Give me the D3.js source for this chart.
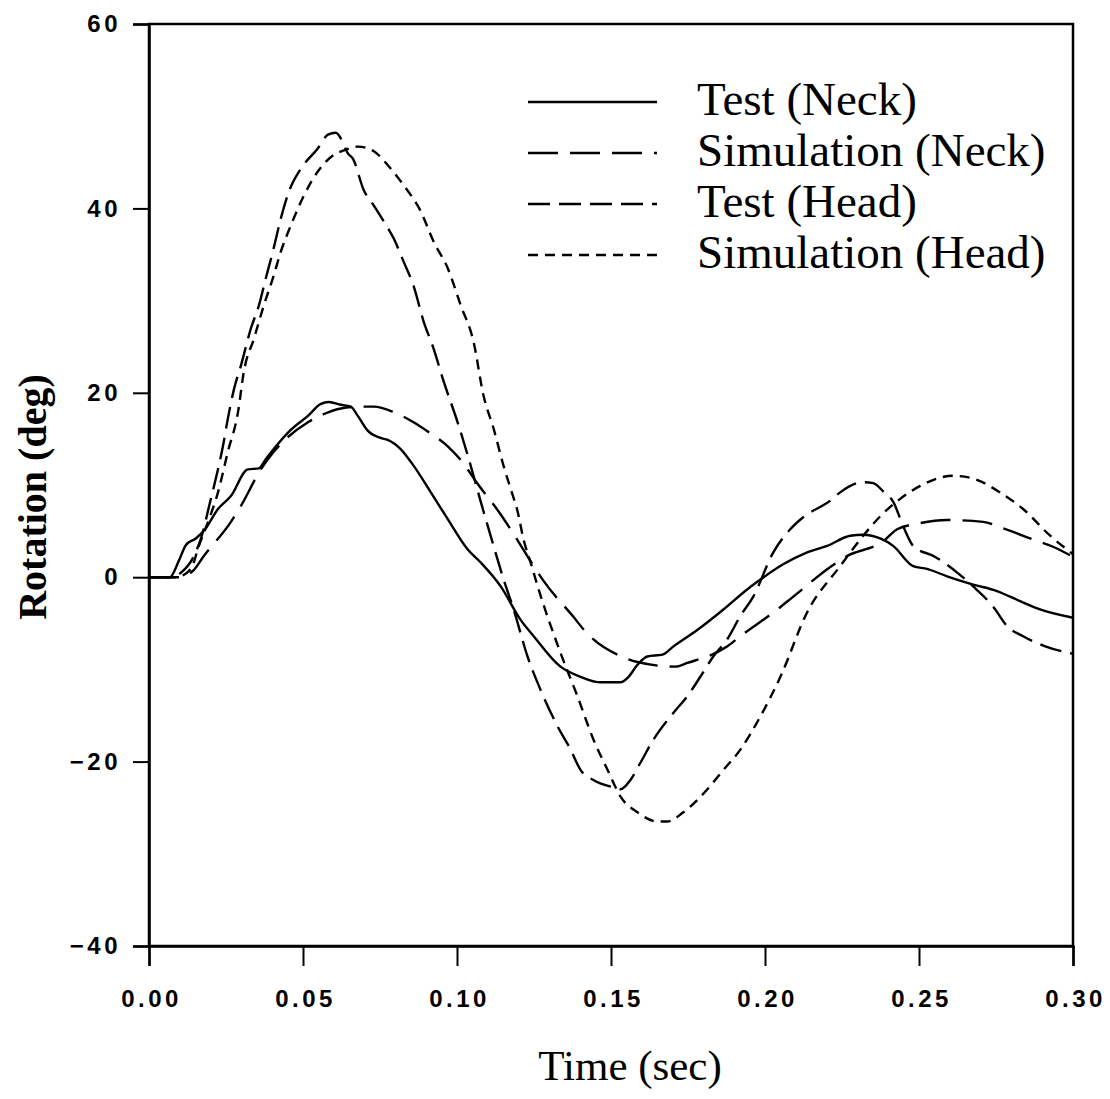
<!DOCTYPE html>
<html><head><meta charset="utf-8">
<script src="https://cdn.jsdelivr.net/npm/d3@7"></script>
<style>body{margin:0;background:#fff}</style>
</head><body>
<script>
// ---- data (time in sec, rotation in deg) ----
const xTicks = [0.00, 0.05, 0.10, 0.15, 0.20, 0.25, 0.30];
const yTicks = [-40, -20, 0, 20, 40, 60];
const seriesNames = ["Test (Neck)", "Simulation (Neck)", "Test (Head)", "Simulation (Head)"];

const testNeck = [[0,0],[0.0068,0],[0.0097,1.8],[0.012,3.5],[0.0152,4.2],[0.0182,5.2],[0.0224,7.4],[0.0266,8.8],[0.0321,11.7],[0.0357,11.8],[0.0379,12.8],[0.0405,13.9],[0.0461,16],[0.0516,17.5],[0.0558,18.8],[0.0584,19],[0.0623,18.7],[0.0655,18.5],[0.0678,17.5],[0.071,15.9],[0.0752,15.1],[0.0775,14.9],[0.0817,13.9],[0.0859,12.1],[0.0915,9.2],[0.097,6.3],[0.1035,3],[0.1077,1.6],[0.1142,-1],[0.1206,-4.6],[0.1249,-6.4],[0.1336,-9.7],[0.1401,-10.8],[0.1466,-11.4],[0.1531,-11.4],[0.1557,-10.8],[0.1586,-9.5],[0.1618,-8.6],[0.1667,-8.4],[0.1703,-7.5],[0.1781,-5.7],[0.1865,-3.5],[0.1943,-1.3],[0.1975,-0.5],[0.2059,1.4],[0.2137,2.7],[0.2202,3.4],[0.2277,4.5],[0.2319,4.6],[0.2374,4.2],[0.2416,3.4],[0.2481,1.2],[0.2526,0.9],[0.2591,0.1],[0.2676,-0.8],[0.2753,-1.5],[0.2828,-2.6],[0.2893,-3.5],[0.3,-4.4]];

const simNeck = [[0,0],[0.0097,0],[0.0143,0.7],[0.0178,2.3],[0.0266,6],[0.0298,7.7],[0.0363,11.7],[0.0405,13.6],[0.0516,16.8],[0.0568,17.7],[0.0623,18.3],[0.0688,18.5],[0.073,18.5],[0.0795,17.9],[0.0859,16.8],[0.0905,15.8],[0.097,14.2],[0.1022,12.3],[0.1061,10.4],[0.1142,6.8],[0.1174,5.2],[0.1249,1.2],[0.1281,-0.4],[0.1378,-4.3],[0.1417,-5.9],[0.1541,-8.7],[0.1586,-9.2],[0.1709,-9.7],[0.1748,-9.3],[0.1878,-7.5],[0.192,-6.4],[0.204,-3.5],[0.2092,-2.1],[0.2212,1.1],[0.2261,2.2],[0.2384,3.9],[0.2429,5.2],[0.2494,5.8],[0.2591,6.2],[0.2708,6],[0.2773,5.3],[0.287,4.1],[0.2935,3.3],[0.3,2.2]];

const testHead = [[0,0],[0.0071,0],[0.0104,0.5],[0.0146,2.3],[0.0175,4.9],[0.0195,7.7],[0.0217,10.7],[0.024,14.2],[0.0256,17.2],[0.0276,20.4],[0.0298,22.9],[0.0331,27],[0.0357,29.5],[0.0379,32.4],[0.0402,35.3],[0.0428,38.9],[0.0454,41.8],[0.0493,44.3],[0.0548,46.5],[0.0581,48],[0.0606,48.2],[0.0629,47.2],[0.0645,46],[0.0662,45.4],[0.0697,42],[0.073,40.3],[0.0762,38.6],[0.0795,36.7],[0.0827,34.2],[0.0859,31.6],[0.0892,27.7],[0.0924,24.8],[0.0957,21.2],[0.1002,16.8],[0.1035,13.2],[0.1077,8.2],[0.1109,4.5],[0.1151,-0.2],[0.1184,-3.5],[0.1229,-8.6],[0.1271,-12.2],[0.1327,-16.2],[0.1369,-18.7],[0.1401,-20.9],[0.1443,-22],[0.1508,-22.8],[0.1531,-23],[0.1563,-22],[0.1596,-20.1],[0.1638,-17.6],[0.1703,-14.7],[0.1748,-12.9],[0.179,-10.8],[0.1832,-8.6],[0.1878,-6.7],[0.192,-4.2],[0.1962,-2.1],[0.2027,2.7],[0.2082,5.2],[0.2124,6.5],[0.2212,8.3],[0.2244,9.2],[0.2319,10.3],[0.2351,10.2],[0.2384,9.3],[0.2416,8.2],[0.2449,5.5],[0.2481,3.4],[0.2553,2.2],[0.2624,0.5],[0.2676,-1],[0.2741,-3.2],[0.2786,-5.3],[0.2838,-6.4],[0.291,-7.5],[0.3,-8.3]];

const simHead = [[0,0],[0.0088,0],[0.0136,0.9],[0.0162,3.4],[0.0195,6.3],[0.0224,9.2],[0.0256,13.6],[0.0289,17.9],[0.0308,22.3],[0.0341,25.9],[0.0373,29.5],[0.0402,32.4],[0.0428,35.3],[0.0461,38.2],[0.0503,41.4],[0.0548,44],[0.06,45.8],[0.0633,46.3],[0.0678,46.7],[0.073,46.2],[0.0775,44.7],[0.0827,42.5],[0.0882,39.7],[0.0924,36.4],[0.097,33.5],[0.1012,29.5],[0.1054,25.5],[0.1086,19.7],[0.1119,16.1],[0.1151,12.1],[0.1174,9.6],[0.1197,7.1],[0.1216,4.1],[0.1239,1.6],[0.1262,-1],[0.1336,-8.2],[0.1391,-12.9],[0.1443,-17.6],[0.1489,-20.9],[0.1531,-23.8],[0.1586,-25.5],[0.1651,-26.5],[0.1683,-26.5],[0.1735,-25.5],[0.1813,-23],[0.1865,-20.9],[0.192,-18.7],[0.1985,-15.1],[0.205,-10.8],[0.2137,-3.8],[0.2244,1.2],[0.2319,4.5],[0.2374,6.6],[0.2439,8.5],[0.2504,9.9],[0.2611,11],[0.2676,10.7],[0.2763,9.2],[0.2838,7.4],[0.2926,4.5],[0.3,2.5]];

const seriesData = [testNeck, simNeck, testHead, simHead];
const seriesDash = [null, "30,12", "22,9", "10,7"];

// ---- layout ----
const W = 1110, H = 1099;
const svg = d3.select("body").append("svg").attr("width", W).attr("height", H);
const x = d3.scaleLinear().domain([0, 0.3]).range([149, 1073]);
const y = d3.scaleLinear().domain([-40, 60]).range([946, 24]);

// frame
svg.append("rect").attr("x", x(0)).attr("y", y(60)).attr("width", x(0.3) - x(0)).attr("height", y(-40) - y(60))
  .attr("fill", "none").attr("stroke", "#000").attr("stroke-width", 2.5);

const tickFont = "'Liberation Sans', Arial, sans-serif";
const xAxis = svg.append("g").attr("transform", `translate(0,${y(-40)})`)
  .call(d3.axisBottom(x).tickValues(xTicks).tickFormat(d3.format(".2f")).tickSize(20).tickPadding(24));
const yAxis = svg.append("g").attr("transform", `translate(${x(0)},0)`)
  .call(d3.axisLeft(y).tickValues(yTicks).tickFormat(d3.format("d")).tickSize(16).tickPadding(12));
[xAxis, yAxis].forEach(g => {
  g.select(".domain").attr("stroke-width", 2.5);
  g.selectAll(".tick line").attr("stroke-width", 2);
  g.selectAll(".tick text").attr("font-family", tickFont).attr("font-weight", "bold")
    .attr("font-size", 24).attr("letter-spacing", "3.5px").attr("fill", "#000");
});
xAxis.selectAll(".tick text").attr("dx", "2px");

// lines
const line = d3.line().x(d => x(d[0])).y(d => y(d[1])).curve(d3.curveMonotoneX);
seriesData.forEach((data, i) => {
  svg.append("path").datum(data).attr("d", line).attr("fill", "none").attr("stroke", "#000")
    .attr("stroke-width", 2.4).attr("stroke-dasharray", seriesDash[i]);
});

// legend
const legX1 = 528, legX2 = 657, legTextX = 697;
const legBase = [115, 166, 217, 268];
seriesNames.forEach((name, i) => {
  svg.append("line").attr("x1", legX1).attr("x2", legX2).attr("y1", legBase[i] - 13).attr("y2", legBase[i] - 13)
    .attr("stroke", "#000").attr("stroke-width", 2.4).attr("stroke-dasharray", seriesDash[i]);
  svg.append("text").attr("x", legTextX).attr("y", legBase[i]).text(name)
    .attr("font-family", "'Liberation Serif', 'Times New Roman', serif").attr("font-size", 47).attr("fill", "#000");
});

// axis titles
svg.append("text").attr("x", 630).attr("y", 1080).attr("text-anchor", "middle").text("Time (sec)")
  .attr("font-family", "'Liberation Serif', 'Times New Roman', serif").attr("font-size", 43).attr("fill", "#000");
svg.append("text").attr("transform", "translate(46,497) rotate(-90)").attr("text-anchor", "middle").text("Rotation (deg)")
  .attr("font-family", "'Liberation Serif', 'Times New Roman', serif").attr("font-size", 40).attr("font-weight", "bold").attr("fill", "#000");
</script>
</body></html>
